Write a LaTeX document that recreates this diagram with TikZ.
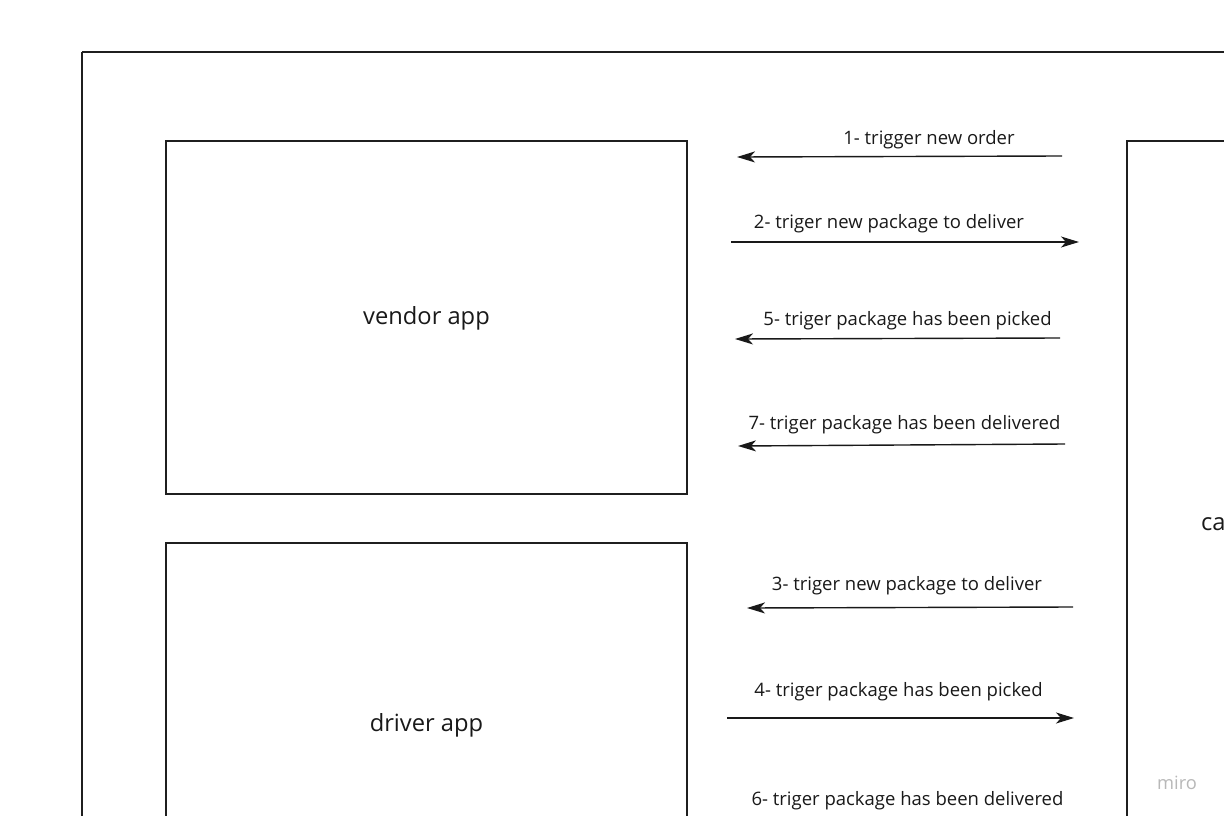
\documentclass[tikz,border=0pt]{standalone}
\usepackage{fontspec}
\setmainfont{Open Sans}
\usetikzlibrary{arrows.meta}
\begin{document}
\begin{tikzpicture}[x=1pt,y=-1pt,
  frame/.style={draw=black!88,line width=2.2pt},
  box/.style={draw=black!88,line width=2.2pt},
  msg/.style={draw=black!90,line width=1.4pt,-{Stealth[length=18pt,width=11pt,inset=5pt]}},
  lbl/.style={font=\fontsize{18.5}{22}\selectfont,text=black!90,inner sep=0pt},
  big/.style={font=\fontsize{23.7}{28}\selectfont,text=black!90,inner sep=0pt}]
\useasboundingbox (0,0) rectangle (1224,816);
\clip (0,0) rectangle (1224,816);
\fill[white] (0,0) rectangle (1224,816);
% outer frame
\draw[frame] (82,52) -- (1260,52) (82,52) -- (82,860);
% boxes
\draw[box] (166,141) rectangle (687,494);
\node[big] (vendor) at (426.5,318) {vendor app};
\draw[box] (166,543) rectangle (687,900);
\node[big] (driver) at (426.5,725) {driver app};
\draw[box] (1127,141) rectangle (1400,900);
\node[big,anchor=west] (ca) at (1201,524) {ca};
% coordinates
\coordinate (a1s) at (1062,156); \coordinate (a1e) at (737,157);
\coordinate (a2s) at (731,242);  \coordinate (a2e) at (1079,242);
\coordinate (a5s) at (1060,338); \coordinate (a5e) at (735,339);
\coordinate (a7s) at (1065,444); \coordinate (a7e) at (738,446);
\coordinate (a3s) at (1073,607); \coordinate (a3e) at (747,608);
\coordinate (a4s) at (727,718);  \coordinate (a4e) at (1074,718);
\draw[msg] (a1s) -- (a1e);
\draw[msg] (a2s) -- (a2e);
\draw[msg] (a5s) -- (a5e);
\draw[msg] (a7s) -- (a7e);
\draw[msg] (a3s) -- (a3e);
\draw[msg] (a4s) -- (a4e);
% labels
\node[lbl] (l1) at (929,139.5) {1- trigger new order};
\node[lbl] (l2) at (889,223.5) {2- triger new package to deliver};
\node[lbl] (l5) at (907.5,320.5) {5- triger package has been picked};
\node[lbl] (l7) at (904.5,424.5) {7- triger package has been delivered};
\node[lbl] (l3) at (907,585.5) {3- triger new package to deliver};
\node[lbl] (l4) at (898.5,691.5) {4- triger package has been picked};
\node[lbl] (l6) at (907.5,800.5) {6- triger package has been delivered};
% watermark
\node[font=\fontsize{18.3}{20}\selectfont,text=black!28,inner sep=0pt] (miro) at (1177,783) {miro};
\end{tikzpicture}
\end{document}
